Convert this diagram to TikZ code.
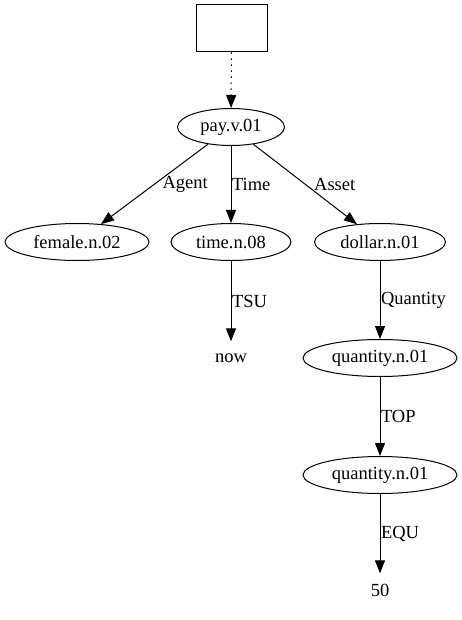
\documentclass[tikz,border=0pt]{standalone}
\usepackage{fontspec}
\setmainfont{Liberation Serif}
\usetikzlibrary{arrows.meta, shapes.geometric}

\begin{document}
\begin{tikzpicture}[
  x=1pt, y=-1pt,
  font=\fontsize{18.5}{21}\selectfont,
  synnode/.style={
    ellipse, draw=black, line width=1pt,
    inner sep=0pt, minimum height=37pt
  },
  boxnode/.style={
    rectangle, draw=black, line width=1pt,
    minimum width=71pt, minimum height=47pt
  },
  constnode/.style={
    rectangle, inner sep=0pt, minimum height=33pt
  },
  roleedge/.style={
    draw=black, line width=1pt,
    -{Triangle[length=13pt, width=10pt]}
  },
  boxedge/.style={
    draw=black, line width=1pt, dash pattern=on 1.5pt off 4.5pt,
    -{Triangle[length=13pt, width=10pt]}
  },
  rolelabel/.style={
    inner sep=0.5pt
  },
]

\useasboundingbox (0,0) rectangle (462,620);

%% ================================================================
%% TOP: box and verb
%% ================================================================
\node[boxnode] (box) at (231.5, 28.5) {};
\node[synnode, minimum width=107pt] (pay) at (231, 127) {pay.v.01};

\draw[boxedge] (box) -- (pay);

%% ================================================================
%% SECOND ROW: roles of pay.v.01
%% ================================================================
\node[synnode, minimum width=144pt] (female) at (77, 242)  {female.n.02};
\node[synnode, minimum width=120pt] (time)   at (231, 242) {time.n.08};
\node[synnode, minimum width=131pt] (dollar) at (380, 242) {dollar.n.01};

\draw[roleedge] (pay) -- node[rolelabel, right=7pt] {Agent} (female);
\draw[roleedge] (pay) -- node[rolelabel, right]     {Time}  (time);
\draw[roleedge] (pay) -- node[rolelabel, right=8pt] {Asset} (dollar);

%% ================================================================
%% LOWER CHAINS
%% ================================================================
\node[constnode] (now) at (231, 358) {now};
\draw[roleedge] (time) -- node[rolelabel, right] {TSU} (now);

\node[synnode, minimum width=154pt] (qty1) at (380, 358) {quantity.n.01};
\node[synnode, minimum width=154pt] (qty2) at (380, 475) {quantity.n.01};
\node[constnode] (fifty) at (380, 590) {50};

\draw[roleedge] (dollar) -- node[rolelabel, right] {Quantity} (qty1);
\draw[roleedge] (qty1)   -- node[rolelabel, right] {TOP}      (qty2);
\draw[roleedge] (qty2)   -- node[rolelabel, right] {EQU}      (fifty);

\end{tikzpicture}
\end{document}
